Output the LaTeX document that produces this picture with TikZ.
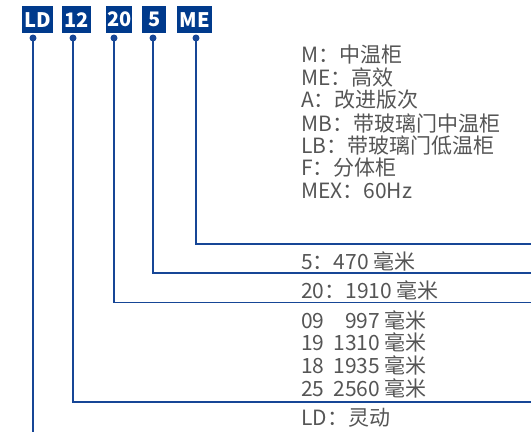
\documentclass[tikz,border=0pt]{standalone}
\usepackage{fontspec}
\setmainfont{Noto Sans CJK SC}
\definecolor{boxblue}{RGB}{0,58,140}
\definecolor{lineblue}{RGB}{22,70,150}
\definecolor{txtgray}{RGB}{85,85,85}
\tikzset{
  code/.style={fill=boxblue,text=white,font=\fontsize{20}{20}\selectfont\bfseries,inner sep=0pt,minimum height=27pt,anchor=north west},
  lead/.style={draw=lineblue,line width=1.7pt},
  dot/.style={circle,fill=lineblue,inner sep=0pt,minimum size=7pt},
  lbl/.style={text=txtgray,font=\fontsize{21}{21}\selectfont,anchor=west,inner sep=0pt},
}
\newlength{\numw}
\newcommand{\nm}[1]{\settowidth{\numw}{0000}\addtolength{\numw}{9pt}\makebox[\numw][r]{#1}}
\begin{document}
\begin{tikzpicture}[x=1pt,y=-1pt]
\useasboundingbox (0,0) rectangle (531,432);
% code boxes
\node[code,minimum width=31pt] (bLD) at (22,6) {LD};
\node[code,minimum width=29pt] (b12) at (62,6) {12};
\node[code,minimum width=26pt] (b20) at (106,6) {20};
\node[code,minimum width=24pt] (b5) at (142,6) {5};
\node[code,minimum width=35pt] (bME) at (177,6) {ME};
% dots
\node[dot] (dLD) at (33,38) {};
\node[dot] (d12) at (73,38) {};
\node[dot] (d20) at (114,38) {};
\node[dot] (d5) at (153,38) {};
\node[dot] (dME) at (196,38) {};
% end coordinates
\coordinate (eME) at (531,244);
\coordinate (e5) at (531,273);
\coordinate (e20) at (531,302.5);
\coordinate (e12) at (531,402);
\coordinate (eLD) at (33,432);
% leaders
\draw[lead] (dME.center) |- (eME);
\draw[lead] (d5.center) |- (e5);
\draw[lead] (d20.center) |- (e20);
\draw[lead] (d12.center) |- (e12);
\draw[lead] (dLD.center) -- (eLD);
% labels
\node[lbl] (t1) at (301,55) {M：中温柜};
\node[lbl] (t2) at (301,77.5) {ME：高效};
\node[lbl] (t3) at (301,100) {A：改进版次};
\node[lbl] (t4) at (301,123) {MB：带玻璃门中温柜};
\node[lbl] (t5) at (301,145.5) {LB：带玻璃门低温柜};
\node[lbl] (t6) at (301,168) {F：分体柜};
\node[lbl] (t7) at (301,190.5) {MEX：60Hz};
\node[lbl] (t8) at (301,261.5) {5：470 毫米};
\node[lbl] (t9) at (301,290) {20：1910 毫米};
\node[lbl] (t10) at (301,320) {09\nm{997} 毫米};
\node[lbl] (t11) at (301,342.5) {19\nm{1310} 毫米};
\node[lbl] (t12) at (301,365) {18\nm{1935} 毫米};
\node[lbl] (t13) at (301,388) {25\nm{2560} 毫米};
\node[lbl] (t14) at (301,418) {LD：灵动};
\end{tikzpicture}
\end{document}
